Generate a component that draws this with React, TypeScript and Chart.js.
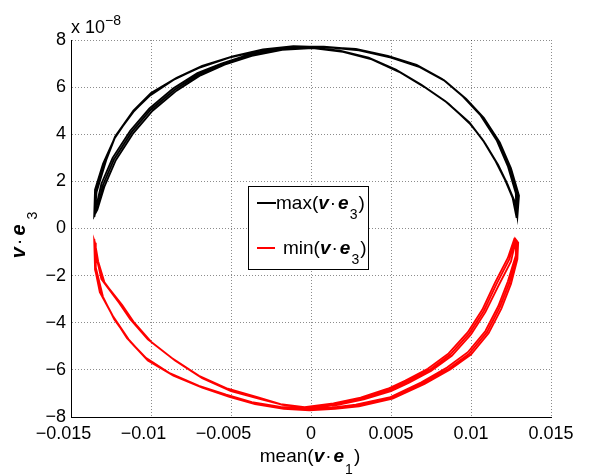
import React, { useEffect, useRef } from "react";
import { Chart, registerables } from "chart.js";

Chart.register(...registerables);

// x ticks and labels (negative labels carry trailing spaces so they sit like MATLAB's)
const xTickValues = [-0.015, -0.01, -0.005, 0, 0.005, 0.01, 0.015];
const xTickLabels = ["\u22120.015   ", "\u22120.01   ", "\u22120.005   ", "0", "0.005", "0.01", "0.015"];
// y ticks (units of 1e-8)
const yTickValues = [-8, -6, -4, -2, 0, 2, 4, 6, 8];
const yTickLabels = ["\u22128", "\u22126", "\u22124", "\u22122", "0", "2", "4", "6", "8"];

// max(v·e3) trajectory (y in units of 1e-8)
const maxX = [
  -0.01354, -0.01345, -0.0129, -0.01225, -0.0111, -0.01006, -0.0085, -0.0069, -0.005, -0.0031, -0.0012, 0.0008, 0.0029, 0.0049, 0.0067, 0.0083, 0.0096, 0.0107, 0.0117, 0.0124, 0.0129, 0.01285,
  0.0127, 0.0122, 0.0116, 0.0108, 0.0099, 0.0085, 0.007, 0.0054, 0.0037, 0.0019, 0.0, -0.0019, -0.0038, -0.0055, -0.007, -0.0085, -0.01, -0.0112, -0.0123, -0.013, -0.0133,
  -0.01352, -0.0134, -0.0128, -0.0122, -0.0111, -0.01, -0.0084, -0.0068, -0.0049, -0.003, -0.0011, 0.0009, 0.003, 0.005, 0.0068, 0.0084, 0.0097, 0.0108, 0.0118, 0.0125, 0.013, 0.0129,
  0.0128, 0.0123, 0.0117, 0.0109, 0.01, 0.0086, 0.0071, 0.0055, 0.0038, 0.002, 0.0001, -0.0018, -0.0037, -0.0054, -0.0069, -0.0084, -0.0099, -0.0111, -0.0122, -0.0129, -0.01335,
  -0.01355, -0.0135, -0.013, -0.0123, -0.0112, -0.0101, -0.0086, -0.007, -0.0051, -0.0032, -0.0013, 0.0007, 0.0028, 0.0048, 0.0066, 0.0082, 0.0095, 0.0106, 0.0116, 0.0123, 0.0128, 0.01285,
  0.0126, 0.0121, 0.0115, 0.0107, 0.0098, 0.0084, 0.0069, 0.0053, 0.0036, 0.0018, -0.0001, -0.002, -0.0039, -0.0056, -0.0071, -0.0086, -0.0101, -0.0113, -0.0124, -0.0131, -0.0134, -0.01354,
];
const maxY = [
  0.5, 1.7, 2.8, 3.9, 4.95, 5.67, 6.35, 6.85, 7.28, 7.58, 7.72, 7.72, 7.6, 7.3, 6.9, 6.3, 5.55, 4.75, 3.7, 2.6, 1.45, 0.45,
  1.2, 2.0, 2.8, 3.7, 4.5, 5.35, 6.05, 6.7, 7.22, 7.52, 7.68, 7.6, 7.36, 6.98, 6.55, 5.9, 5.05, 4.1, 2.95, 1.85, 0.95,
  0.6, 1.55, 2.9, 3.95, 5.0, 5.75, 6.4, 6.9, 7.3, 7.6, 7.74, 7.7, 7.56, 7.25, 6.85, 6.25, 5.5, 4.7, 3.65, 2.55, 1.4, 0.5,
  1.0, 1.85, 2.7, 3.6, 4.4, 5.3, 6.0, 6.65, 7.18, 7.5, 7.66, 7.58, 7.33, 6.95, 6.5, 5.85, 5.0, 4.05, 2.9, 1.8, 0.8,
  0.55, 1.65, 2.75, 3.8, 4.9, 5.62, 6.3, 6.82, 7.25, 7.55, 7.7, 7.71, 7.62, 7.33, 6.95, 6.35, 5.6, 4.8, 3.75, 2.65, 1.5, 0.45,
  1.3, 2.1, 2.9, 3.8, 4.55, 5.4, 6.1, 6.75, 7.25, 7.55, 7.7, 7.62, 7.38, 7.0, 6.6, 5.95, 5.1, 4.15, 3.0, 1.9, 1.0, 0.5,
];

// min(v·e3) trajectory (y in units of 1e-8)
const minX = [
  -0.01354, -0.0135, -0.0131, -0.01235, -0.0114, -0.01027, -0.0087, -0.0069, -0.0052, -0.0036, -0.0018, -0.0002, 0.0014, 0.0029, 0.005, 0.007, 0.0086, 0.0099, 0.011, 0.0118, 0.0124, 0.01285, 0.0129,
  0.01275, 0.0124, 0.0116, 0.0108, 0.0099, 0.0087, 0.0074, 0.006, 0.0049, 0.0032, 0.0015, -0.0003, -0.0018, -0.0032, -0.0051, -0.0069, -0.0086, -0.0101, -0.0112, -0.0119, -0.013, -0.0134, -0.01354,
  -0.0135, -0.01345, -0.013, -0.0123, -0.0113, -0.0102, -0.0086, -0.0068, -0.0051, -0.0035, -0.0017, -0.0001, 0.0015, 0.003, 0.0051, 0.0071, 0.0087, 0.01, 0.0111, 0.0119, 0.0125, 0.0129, 0.01295,
  0.0128, 0.0125, 0.0117, 0.0109, 0.01, 0.0088, 0.0075, 0.0061, 0.005, 0.0033, 0.0016, -0.0002, -0.0017, -0.0031, -0.005, -0.0068, -0.0085, -0.01, -0.0111, -0.0118, -0.0129, -0.0133, -0.0135,
  -0.01355, -0.0135, -0.0132, -0.0124, -0.0115, -0.0103, -0.0088, -0.007, -0.0053, -0.0037, -0.0019, -0.0003, 0.0013, 0.0028, 0.0049, 0.0069, 0.0085, 0.0098, 0.0109, 0.0117, 0.0123, 0.0128, 0.0128,
  0.0127, 0.0123, 0.0115, 0.0107, 0.0098, 0.0086, 0.0073, 0.0059, 0.0048, 0.0031, 0.0014, -0.0004, -0.0019, -0.0033, -0.0052, -0.007, -0.0087, -0.0102, -0.0113, -0.012, -0.0131, -0.0134, -0.01354,
];
const minY = [
  -0.45, -1.75, -2.8, -3.75, -4.7, -5.55, -6.2, -6.72, -7.1, -7.4, -7.6, -7.7, -7.62, -7.52, -7.2, -6.57, -5.95, -5.3, -4.4, -3.35, -2.3, -1.2, -0.55,
  -0.42, -1.3, -2.35, -3.5, -4.45, -5.35, -6.0, -6.5, -6.85, -7.22, -7.45, -7.6, -7.48, -7.2, -6.85, -6.3, -5.55, -4.75, -3.9, -3.2, -2.2, -1.3, -0.5,
  -0.6, -1.65, -2.9, -3.85, -4.8, -5.6, -6.25, -6.75, -7.15, -7.45, -7.65, -7.72, -7.65, -7.55, -7.22, -6.6, -5.98, -5.35, -4.45, -3.4, -2.35, -1.3, -0.6,
  -0.5, -1.4, -2.45, -3.55, -4.5, -5.4, -6.05, -6.55, -6.9, -7.25, -7.5, -7.63, -7.5, -7.25, -6.9, -6.35, -5.6, -4.8, -3.95, -3.25, -2.3, -1.4, -0.6,
  -0.5, -1.7, -2.7, -3.7, -4.65, -5.5, -6.15, -6.68, -7.05, -7.37, -7.57, -7.68, -7.6, -7.48, -7.17, -6.53, -5.9, -5.25, -4.35, -3.3, -2.25, -1.15, -0.5,
  -0.45, -1.25, -2.3, -3.45, -4.4, -5.3, -5.95, -6.45, -6.8, -7.18, -7.42, -7.58, -7.45, -7.17, -6.8, -6.25, -5.5, -4.7, -3.85, -3.15, -2.15, -1.25, -0.5,
];

const FAMILY = "'Liberation Sans', Arial, Helvetica, sans-serif";

type Seg = { t: string; f: string; dy?: number; sp?: number };

function richSegs(pre: string, sub: string, size: number, subDy: number): Seg[] {
  return [
    { t: pre, f: `${size}px ${FAMILY}` },
    { t: "v", f: `bold italic ${size}px ${FAMILY}`, sp: 1 },
    { t: "\u00b7", f: `${size}px ${FAMILY}`, sp: 2 },
    { t: "e", f: `bold italic ${size}px ${FAMILY}`, sp: 1 },
    { t: sub, f: `14px ${FAMILY}`, dy: subDy, sp: 1 },
    { t: ")", f: `${size}px ${FAMILY}` },
  ];
}

function segWidth(ctx: CanvasRenderingContext2D, segs: Seg[]) {
  let w = 0;
  for (const s of segs) {
    ctx.font = s.f;
    w += ctx.measureText(s.t).width + (s.sp || 0);
  }
  return w;
}

function drawSegs(ctx: CanvasRenderingContext2D, x: number, y: number, segs: Seg[]) {
  let cx = x;
  ctx.textBaseline = "alphabetic";
  ctx.textAlign = "left";
  for (const s of segs) {
    ctx.font = s.f;
    ctx.fillText(s.t, cx, y + (s.dy || 0));
    cx += ctx.measureText(s.t).width + (s.sp || 0);
  }
}

const overlayPlugin = {
  id: "overlay",
  afterDraw(chart: any) {
    const ctx: CanvasRenderingContext2D = chart.ctx;
    ctx.save();
    ctx.fillStyle = "#000";

    // exponent label
    drawSegs(ctx, 71, 33, [
      { t: "x 10", f: `18px ${FAMILY}` },
      { t: "\u22128", f: `14px ${FAMILY}`, dy: -8 },
    ]);

    // x axis title
    const xt = richSegs("mean(", "1", 19, 12);
    const xw = segWidth(ctx, xt);
    drawSegs(ctx, 310 - xw / 2, 462, xt);

    // y axis title (rotated)
    const yt: Seg[] = [
      { t: "v", f: `bold italic 20px ${FAMILY}`, sp: 2 },
      { t: "\u00b7", f: `20px ${FAMILY}`, sp: 3 },
      { t: "e", f: `bold italic 20px ${FAMILY}`, sp: 5 },
      { t: "3", f: `14px ${FAMILY}`, dy: 12 },
    ];
    const yw = segWidth(ctx, yt);
    ctx.save();
    ctx.translate(25, 235 + yw / 2);
    ctx.rotate(-Math.PI / 2);
    drawSegs(ctx, 0, 0, yt);
    ctx.restore();

    // legend box
    ctx.fillStyle = "#fff";
    ctx.fillRect(248.5, 186.5, 120, 83);
    ctx.strokeStyle = "#000";
    ctx.lineWidth = 1;
    ctx.strokeRect(248.5, 186.5, 120, 83);

    ctx.lineWidth = 2;
    ctx.strokeStyle = "#000";
    ctx.beginPath();
    ctx.moveTo(257, 203);
    ctx.lineTo(276, 203);
    ctx.stroke();
    ctx.strokeStyle = "#ff0000";
    ctx.beginPath();
    ctx.moveTo(257, 248);
    ctx.lineTo(275, 248);
    ctx.stroke();

    ctx.fillStyle = "#000";
    drawSegs(ctx, 276, 209, richSegs("max(", "3", 19, 10));
    drawSegs(ctx, 283, 254, richSegs("min(", "3", 19, 10));

    ctx.restore();
  },
};

export default function App() {
  const ref = useRef<HTMLCanvasElement | null>(null);

  useEffect(() => {
    if (!ref.current) return;
    const maxPts = maxX.map((x, i) => ({ x, y: maxY[i] }));
    const minPts = minX.map((x, i) => ({ x, y: minY[i] }));
    const grid = {
      color: "rgba(0,0,0,0.45)",
      lineWidth: 1,
      drawTicks: false,
    };
    const chart = new Chart(ref.current, {
      type: "scatter",
      data: {
        datasets: [
          {
            label: "max",
            data: maxPts,
            showLine: true,
            borderColor: "#000000",
            backgroundColor: "#000000",
            borderWidth: 1.8,
            pointRadius: 0,
            tension: 0,
            fill: false,
          },
          {
            label: "min",
            data: minPts,
            showLine: true,
            borderColor: "#ff0000",
            backgroundColor: "#ff0000",
            borderWidth: 1.8,
            pointRadius: 0,
            tension: 0,
            fill: false,
          },
        ],
      },
      options: {
        animation: false,
        responsive: true,
        maintainAspectRatio: false,
        layout: { padding: { left: 0, top: 40, right: 38, bottom: 0 } },
        plugins: {
          legend: { display: false },
          tooltip: { enabled: false },
        },
        scales: {
          x: {
            type: "linear",
            min: -0.015,
            max: 0.015,
            afterBuildTicks: (s: any) => {
              s.ticks = xTickValues.map((v) => ({ value: v }));
            },
            afterFit: (s: any) => {
              s.height = 59;
            },
            grid,
            border: { display: true, color: "#000", width: 1, dash: [1, 2] },
            ticks: {
              color: "#000",
              padding: 6,
              maxRotation: 0,
              autoSkip: false,
              font: { family: FAMILY, size: 18 },
              callback: (_v: any, i: number) => xTickLabels[i],
            },
          },
          y: {
            type: "linear",
            min: -8,
            max: 8,
            afterBuildTicks: (s: any) => {
              s.ticks = yTickValues.map((v) => ({ value: v }));
            },
            afterFit: (s: any) => {
              s.width = 71;
            },
            grid,
            border: { display: true, color: "#000", width: 1, dash: [1, 2] },
            ticks: {
              color: "#000",
              padding: 5,
              autoSkip: false,
              font: { family: FAMILY, size: 18 },
              callback: (_v: any, i: number) => yTickLabels[i],
            },
          },
        },
      },
      plugins: [overlayPlugin],
    });
    return () => chart.destroy();
  }, []);

  return (
    <div style={{ position: "fixed", left: 0, top: 0, width: 589, height: 476, background: "#fff" }}>
      <canvas ref={ref} />
    </div>
  );
}
